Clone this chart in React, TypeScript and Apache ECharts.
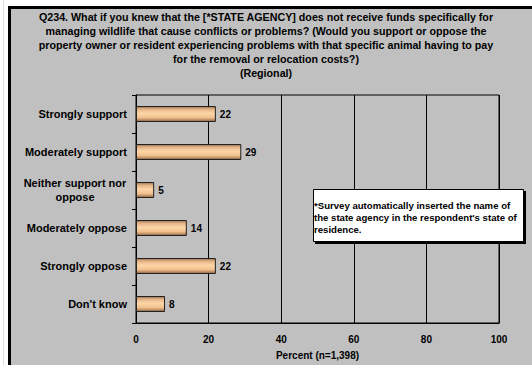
import React, { useEffect, useRef } from "react";
import * as echarts from "echarts";

const titleLines = [
  "Q234. What if you knew that the [*STATE AGENCY] does not receive funds specifically for",
  "managing wildlife that cause conflicts or problems? (Would you support or oppose the",
  "property owner or resident experiencing problems with that specific animal having to pay",
  "for the removal or relocation costs?)",
  "(Regional)",
];
const categories = [
  "Strongly support",
  "Moderately support",
  "Neither support nor\noppose",
  "Moderately oppose",
  "Strongly oppose",
  "Don't know",
];
const values = [22, 29, 5, 14, 22, 8];
const xTicks = [0, 20, 40, 60, 80, 100];
const axisName = "Percent (n=1,398)";
const noteLines = [
  "*Survey automatically inserted the name of",
  "the state agency in the respondent's state of",
  "residence.",
];

const FONT = "Arial, 'Liberation Sans', sans-serif";

export default function App() {
  const ref = useRef<HTMLDivElement>(null);
  useEffect(() => {
    const chart = echarts.init(ref.current!, undefined, { renderer: "svg" });
    chart.setOption({
      animation: false,
      backgroundColor: "#ffffff",
      textStyle: { fontFamily: FONT },
      title: {
        text: titleLines.join("\n"),
        left: 266,
        top: 10,
        padding: 0,
        textAlign: "center",
        textStyle: {
          fontFamily: FONT,
          fontWeight: "bold",
          fontSize: 10.7,
          lineHeight: 14,
          color: "#000",
        },
      },
      graphic: [
        {
          type: "line",
          z: -10,
          shape: { x1: 3.5, y1: 0, x2: 3.5, y2: 365 },
          style: { stroke: "#dddddd", lineWidth: 1 },
        },
        {
          type: "rect",
          z: -10,
          shape: { x: 9.5, y: 7.5, width: 540, height: 370 },
          style: { fill: "#c0c0c0", stroke: "#000", lineWidth: 3 },
        },
        {
          type: "rect",
          z: 20,
          shape: { x: 315, y: 191, width: 211, height: 53 },
          style: { fill: "#000" },
        },
        {
          type: "rect",
          z: 21,
          shape: { x: 313.5, y: 189.5, width: 210, height: 52 },
          style: { fill: "#fff", stroke: "#000", lineWidth: 1 },
        },
        {
          type: "text",
          z: 22,
          x: 314,
          y: 199,
          style: {
            text: noteLines.join("\n"),
            fontFamily: FONT,
            fontWeight: "bold",
            fontSize: 9.6,
            lineHeight: 12,
            verticalAlign: "top",
            align: "left",
            fill: "#000",
          },
        },
      ],
      grid: {
        left: 136,
        top: 95,
        right: 33,
        bottom: 41,
        show: true,
        borderColor: "#000",
        borderWidth: 1,
        backgroundColor: "transparent",
      },
      xAxis: {
        type: "value",
        min: 0,
        max: 100,
        interval: 20,
        name: axisName,
        nameLocation: "middle",
        nameGap: 27,
        nameTextStyle: { fontFamily: FONT, fontWeight: "bold", fontSize: 10, color: "#000" },
        axisLine: { show: true, lineStyle: { color: "#000", width: 1 } },
        axisTick: { show: false },
        splitLine: { show: true, lineStyle: { color: "#000", width: 1 } },
        axisLabel: {
          margin: 11,
          fontFamily: FONT,
          fontWeight: "bold",
          fontSize: 10,
          color: "#000",
          formatter: (v: number) => (xTicks.includes(v) ? String(v) : ""),
        },
      },
      yAxis: {
        type: "category",
        data: categories,
        inverse: true,
        axisLine: { show: true, lineStyle: { color: "#000", width: 1 } },
        axisTick: { show: true, inside: false, length: 4, lineStyle: { color: "#000" } },
        axisLabel: {
          margin: 9,
          color: "#000",
          formatter: (v: string) =>
            v.includes("\n")
              ? v
                  .split("\n")
                  .map((s) => `{c|${s}}`)
                  .join("\n")
              : `{r|${v}}`,
          rich: {
            c: {
              width: 104,
              align: "center",
              fontFamily: FONT,
              fontWeight: "bold",
              fontSize: 11,
              lineHeight: 14,
              color: "#000",
            },
            r: {
              fontFamily: FONT,
              fontWeight: "bold",
              fontSize: 11,
              color: "#000",
            },
          },
        },
      },
      series: [
        {
          type: "bar",
          data: values,
          barWidth: 16,
          itemStyle: {
            borderColor: "#222",
            borderWidth: 1,
            color: new echarts.graphic.LinearGradient(0, 0, 0, 1, [
              { offset: 0, color: "#9a7350" },
              { offset: 0.18, color: "#e3b386" },
              { offset: 0.45, color: "#ffd6a8" },
              { offset: 0.75, color: "#f0bf8c" },
              { offset: 1, color: "#8c6443" },
            ]),
          },
          label: {
            show: true,
            position: "right",
            distance: 4,
            fontFamily: FONT,
            fontWeight: "bold",
            fontSize: 10,
            color: "#000",
          },
        },
      ],
    });
    return () => chart.dispose();
  }, []);
  return (
    <div
      ref={ref}
      style={{ position: "absolute", left: 0, top: 0, width: 532, height: 365 }}
    />
  );
}
